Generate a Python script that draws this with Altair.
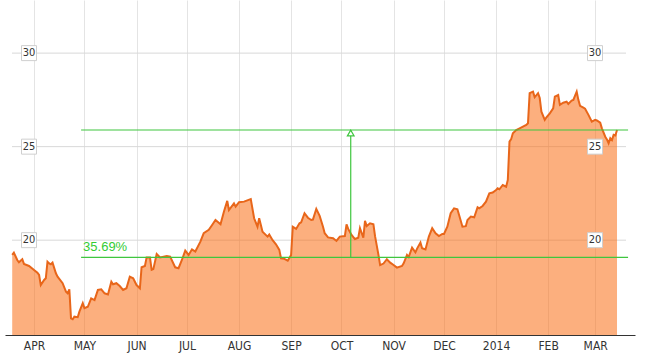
import altair as alt
import pandas as pd

# ---- data ----
dates = [
    "2013-03-19", "2013-03-20", "2013-03-22", "2013-03-23", "2013-03-25", "2013-03-26", "2013-03-29",
    "2013-04-01", "2013-04-03", "2013-04-04", "2013-04-05", "2013-04-07", "2013-04-08", "2013-04-09",
    "2013-04-10", "2013-04-11", "2013-04-12", "2013-04-14", "2013-04-15", "2013-04-18", "2013-04-20",
    "2013-04-21", "2013-04-22", "2013-04-23", "2013-04-24", "2013-04-25", "2013-04-27", "2013-04-28",
    "2013-04-30", "2013-05-01", "2013-05-03", "2013-05-05", "2013-05-07", "2013-05-09", "2013-05-11",
    "2013-05-13", "2013-05-15", "2013-05-17", "2013-05-18", "2013-05-20", "2013-05-22", "2013-05-24",
    "2013-05-26", "2013-05-28", "2013-05-30", "2013-06-01", "2013-06-03", "2013-06-04", "2013-06-06",
    "2013-06-07", "2013-06-09", "2013-06-10", "2013-06-11", "2013-06-13", "2013-06-15", "2013-06-19",
    "2013-06-21", "2013-06-24", "2013-06-26", "2013-06-28", "2013-06-30", "2013-07-02", "2013-07-04",
    "2013-07-06", "2013-07-09", "2013-07-11", "2013-07-14", "2013-07-16", "2013-07-18", "2013-07-21",
    "2013-07-23", "2013-07-25", "2013-07-26", "2013-07-29", "2013-07-30", "2013-08-01", "2013-08-04",
    "2013-08-08", "2013-08-10", "2013-08-12", "2013-08-13", "2013-08-15", "2013-08-18", "2013-08-19",
    "2013-08-21", "2013-08-23", "2013-08-25", "2013-08-26", "2013-08-28", "2013-08-30", "2013-09-01",
    "2013-09-02", "2013-09-04", "2013-09-06", "2013-09-07", "2013-09-09", "2013-09-11", "2013-09-13",
    "2013-09-14", "2013-09-16", "2013-09-18", "2013-09-20", "2013-09-21", "2013-09-23", "2013-09-26",
    "2013-09-28", "2013-09-30", "2013-10-03", "2013-10-04", "2013-10-05", "2013-10-07", "2013-10-09",
    "2013-10-11", "2013-10-12", "2013-10-14", "2013-10-15", "2013-10-16", "2013-10-18", "2013-10-20",
    "2013-10-21", "2013-10-23", "2013-10-24", "2013-10-26", "2013-10-28", "2013-10-30", "2013-11-01",
    "2013-11-03", "2013-11-06", "2013-11-07", "2013-11-09", "2013-11-10", "2013-11-12", "2013-11-14",
    "2013-11-15", "2013-11-17", "2013-11-18", "2013-11-20", "2013-11-22", "2013-11-24", "2013-11-26",
    "2013-11-28", "2013-11-30", "2013-12-01", "2013-12-03", "2013-12-05", "2013-12-07", "2013-12-09",
    "2013-12-10", "2013-12-12", "2013-12-14", "2013-12-15", "2013-12-17", "2013-12-19", "2013-12-21",
    "2013-12-22", "2013-12-24", "2013-12-26", "2013-12-28", "2013-12-30", "2014-01-01", "2014-01-02",
    "2014-01-03", "2014-01-05", "2014-01-07", "2014-01-08", "2014-01-09", "2014-01-10", "2014-01-11",
    "2014-01-13", "2014-01-15", "2014-01-17", "2014-01-19", "2014-01-20", "2014-01-21", "2014-01-23",
    "2014-01-24", "2014-01-26", "2014-01-27", "2014-01-28", "2014-01-30", "2014-01-31", "2014-02-02",
    "2014-02-04", "2014-02-05", "2014-02-07", "2014-02-08", "2014-02-10", "2014-02-12", "2014-02-13",
    "2014-02-15", "2014-02-16", "2014-02-18", "2014-02-19", "2014-02-20", "2014-02-22", "2014-02-23",
    "2014-02-25", "2014-02-27", "2014-03-01", "2014-03-02", "2014-03-04", "2014-03-05", "2014-03-07",
    "2014-03-08", "2014-03-09", "2014-03-10", "2014-03-11", "2014-03-12", "2014-03-13", "2014-03-14",
]
prices = [
    19.21, 19.33, 18.94, 18.82, 18.98, 18.73, 18.62,
    18.41, 18.26, 18.14, 17.60, 17.87, 17.96, 18.85,
    18.76, 18.71, 18.80, 18.23, 18.05, 17.70, 17.25,
    17.16, 17.37, 15.82, 15.77, 15.91, 15.88, 16.18,
    16.63, 16.36, 16.44, 16.89, 16.80, 17.34, 17.37,
    17.16, 17.10, 17.78, 17.64, 17.70, 17.55, 17.34,
    17.43, 18.05, 17.96, 17.60, 17.43, 18.55, 18.62,
    19.08, 19.08, 18.41, 18.45, 19.26, 19.08, 19.15,
    19.12, 18.55, 18.50, 18.94, 19.44, 19.21, 19.51,
    19.39, 19.92, 20.37, 20.55, 20.81, 21.08, 20.85,
    21.52, 22.10, 21.61, 21.97, 21.79, 22.03, 22.06,
    22.20, 21.17, 20.72, 21.17, 20.45, 20.19, 20.30,
    20.00, 19.78, 19.48, 19.03, 19.00, 18.90, 19.20,
    20.72, 20.60, 20.90, 20.95, 21.44, 21.20, 21.08,
    21.10, 21.67, 21.30, 20.72, 20.37, 20.15, 20.10,
    19.96, 20.19, 20.22, 20.85, 20.60, 20.28, 20.06,
    20.13, 20.64, 20.13, 21.03, 20.75, 20.90, 20.85,
    20.20, 19.21, 18.67, 18.75, 18.98, 18.80, 18.67,
    18.53, 18.62, 18.76, 19.21, 19.10, 19.60, 19.35,
    19.55, 19.87, 19.57, 19.50, 20.19, 20.64, 20.37,
    20.22, 20.33, 20.33, 20.72, 21.44, 21.70, 21.65,
    21.35, 20.72, 20.75, 21.08, 21.26, 21.22, 21.76,
    21.70, 21.83, 22.06, 22.50, 22.55, 22.68, 22.77,
    22.72, 22.95, 22.86, 23.22, 25.27, 25.40, 25.72,
    25.89, 25.98, 26.07, 26.16, 26.25, 27.86, 27.94,
    27.64, 27.86, 27.60, 26.87, 26.43, 26.57, 26.78,
    27.05, 27.67, 27.76, 27.23, 27.35, 27.40, 27.28,
    27.46, 27.50, 27.94, 27.50, 27.18, 27.08, 27.03,
    26.70, 26.34, 26.43, 26.40, 26.28, 25.98, 25.53,
    25.39, 25.18, 25.45, 25.35, 25.63, 25.60, 25.89,
]
y_ticks = [20, 25, 30]
month_ticks = [(2013, m) for m in range(4, 13)] + [(2014, 1), (2014, 2), (2014, 3)]
low_level = 19.08
high_level = 25.89
level_start = "2013-04-29T00:00:00"
level_end = "2014-03-20T14:00:00"
arrow_date = "2013-10-06T12:00:00"
change_label = "35.69%"

# ---- tables ----
df = pd.DataFrame({"date": [d + "T00:00:00" for d in dates], "price": prices})
levels = pd.DataFrame({"start": [level_start] * 2, "end": [level_end] * 2,
                       "level": [low_level, high_level]})
arrow = pd.DataFrame({"date": [arrow_date], "low": [low_level], "high": [high_level]})
label_df = pd.DataFrame({"start": [level_start], "level": [low_level], "txt": [change_label]})
ticks_df = pd.DataFrame({"v": y_ticks, "t": [str(v) for v in y_ticks]})

GREEN = "#3fc63f"
NARROW = "Liberation Sans Narrow, DejaVu Sans Condensed, Arial Narrow, sans-serif"

xscale = alt.Scale(domain=[alt.DateTime(year=2013, month=3, date=14, hours=17),
                           alt.DateTime(year=2014, month=3, date=24, hours=17)])
yscale = alt.Scale(domain=[14.93, 32.84], nice=False, zero=False)

x_axis = alt.Axis(
    values=[alt.DateTime(year=y, month=m, date=1) for y, m in month_ticks],
    labelExpr="month(datum.value) == 0 ? timeFormat(datum.value, '%Y') : upper(timeFormat(datum.value, '%b'))",
    title=None, ticks=False, grid=True, gridColor="#e4e4e4", gridWidth=1,
    domainColor="#333333", domainWidth=1, labelFont=NARROW, labelFontSize=12,
    labelColor="#333333", labelPadding=5, labelFlush=False, labelOverlap=False,
)

grid = alt.Chart(ticks_df).mark_rule(color="#d8d8d8", strokeWidth=1).encode(
    y=alt.Y("v:Q", scale=yscale, axis=None),
    x=alt.value(7), x2=alt.value(621),
)

area = alt.Chart(df).mark_area(
    color="#fa6e14", fillOpacity=0.55,
    line={"color": "#e8661a", "strokeWidth": 2}, clip=True,
).encode(
    x=alt.X("date:T", scale=xscale, axis=x_axis),
    y=alt.Y("price:Q", scale=yscale, axis=None),
)

level_lines = alt.Chart(levels).mark_rule(color=GREEN, strokeWidth=1.2).encode(
    x=alt.X("start:T", scale=xscale), x2="end:T",
    y=alt.Y("level:Q", scale=yscale, axis=None),
)

arrow_line = alt.Chart(arrow).mark_rule(color=GREEN, strokeWidth=1.2).encode(
    x=alt.X("date:T", scale=xscale),
    y=alt.Y("low:Q", scale=yscale, axis=None), y2="high:Q",
)
arrow_head = alt.Chart(arrow).mark_point(
    shape="triangle-up", filled=True, fill="white", stroke=GREEN, strokeWidth=1.2,
    size=45, opacity=1, yOffset=3,
).encode(
    x=alt.X("date:T", scale=xscale),
    y=alt.Y("high:Q", scale=yscale, axis=None),
)

pct_text = alt.Chart(label_df).mark_text(
    align="left", baseline="alphabetic", dx=2, dy=-6, fontSize=13,
    font="Liberation Sans, Arial, sans-serif", color="#33cc33",
).encode(
    x=alt.X("start:T", scale=xscale),
    y=alt.Y("level:Q", scale=yscale, axis=None),
    text="txt:N",
)

def ylabels(xpos):
    box = alt.Chart(ticks_df).mark_point(
        shape="square", filled=True, fill="white", stroke="#cfcfcf", strokeWidth=1,
        size=225, opacity=1,
    ).encode(x=alt.value(xpos), y=alt.Y("v:Q", scale=yscale, axis=None))
    txt = alt.Chart(ticks_df).mark_text(
        font=NARROW, fontSize=11, color="#333333", align="center", baseline="middle",
    ).encode(x=alt.value(xpos), y=alt.Y("v:Q", scale=yscale, axis=None), text="t:N")
    return box + txt

chart = alt.layer(
    grid, area, level_lines, arrow_line, arrow_head, pct_text, ylabels(24), ylabels(590)
).properties(
    width=630, height=335,
    autosize=alt.AutoSizeParams(type="none"),
    padding={"left": 5, "top": 0, "right": 30, "bottom": 23},
    background="white",
).configure_view(strokeWidth=0)

chart.save("out.html", embed_options={"renderer": "svg", "actions": False})
